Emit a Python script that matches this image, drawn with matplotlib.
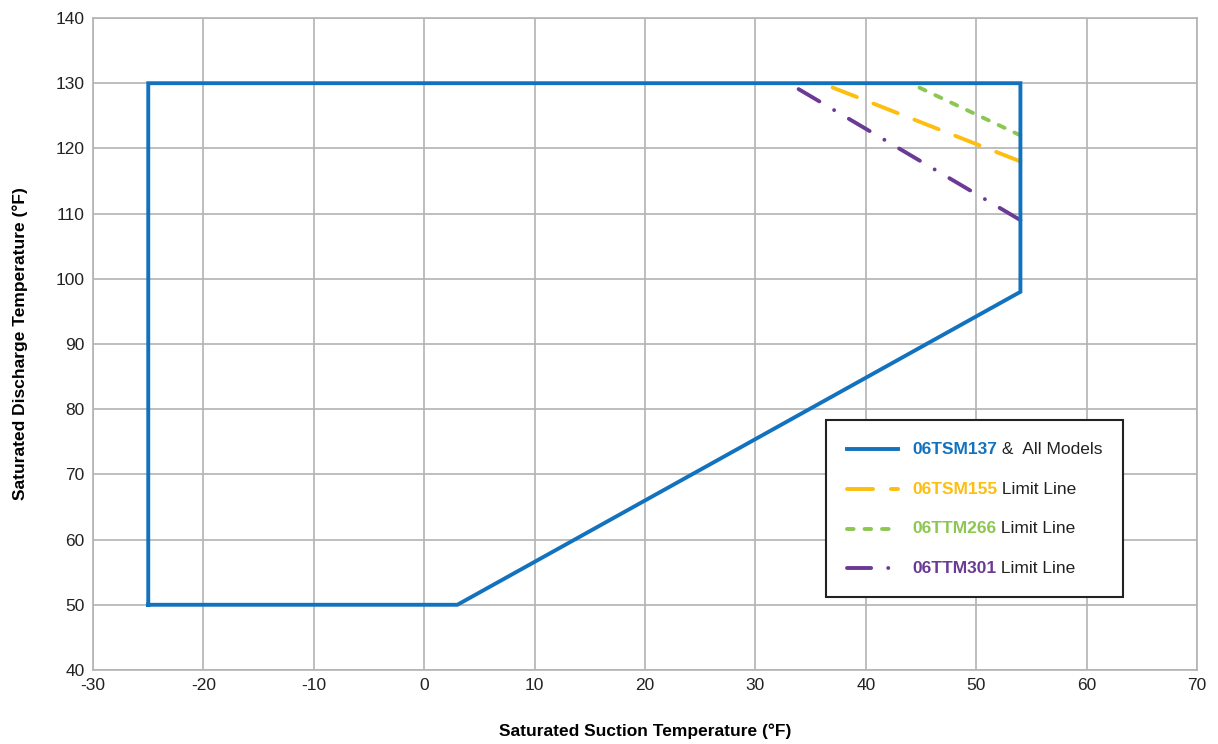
import matplotlib
matplotlib.use("Agg")
import matplotlib.pyplot as plt
from matplotlib.lines import Line2D
from matplotlib.offsetbox import (AnchoredOffsetbox, DrawingArea, HPacker,
                                  TextArea, VPacker)

# ---- data ----
# operating envelope (all models)
env_sst = [-25, -25, 54, 54, 3, -25]
env_sdt = [50, 130, 130, 98, 50, 50]

# limit lines (SST, SDT), listed from the right-hand edge of the envelope
tsm155_sst = [54, 36]
tsm155_sdt = [118, 130]
ttm266_sst = [54, 44]
ttm266_sdt = [122, 130]
ttm301_sst = [54, 33]
ttm301_sdt = [109, 130]

legend_names = ["06TSM137", "06TSM155", "06TTM266", "06TTM301"]
legend_suffix = [" &  All Models", " Limit Line", " Limit Line", " Limit Line"]

BLUE = "#1372BE"
YELLOW = "#FDBE10"
GREEN = "#8CC751"
PURPLE = "#6B3A96"

plt.rcParams.update({
    "font.family": ["Liberation Sans", "DejaVu Sans"],
    "axes.unicode_minus": False,
})

fig = plt.figure(figsize=(12.18, 7.44), dpi=100)
ax = fig.add_axes([0.0764, 0.0995, 0.9064, 0.8763])

LW = 2.8
styles = [
    dict(color=BLUE, lw=LW),
    dict(color=YELLOW, lw=LW, dashes=(6.7, 4.6), dash_capstyle="round"),
    dict(color=GREEN, lw=LW, dashes=(1.7, 2.8), dash_capstyle="round"),
    dict(color=PURPLE, lw=LW, dashes=(6.2, 4.4, 0.01, 4.4), dash_capstyle="round"),
]

ax.plot(env_sst, env_sdt, solid_joinstyle="miter", zorder=5, **styles[0])
ax.plot(tsm155_sst, tsm155_sdt, zorder=4, **styles[1])
ax.plot(ttm266_sst, ttm266_sdt, zorder=4, **styles[2])
ax.plot(ttm301_sst, ttm301_sdt, zorder=4, **styles[3])

ax.set_xlim(-30, 70)
ax.set_ylim(40, 140)
ax.set_xticks(range(-30, 71, 10))
ax.set_yticks(range(40, 141, 10))
ax.tick_params(labelsize=12.5, length=0, pad=6, colors="#222222")
ax.grid(True, color="#B3B3B3", linewidth=1.2)
ax.set_axisbelow(True)
for sp in ax.spines.values():
    sp.set_color("#B3B3B3")
    sp.set_linewidth(1.2)

ax.set_xlabel("Saturated Suction Temperature (°F)", fontsize=12.5,
              fontweight="bold", labelpad=22)
ax.set_ylabel("Saturated Discharge Temperature (°F)", fontsize=12.5,
              fontweight="bold", labelpad=20)

# ---- custom legend with two-colour labels ----
FS = 12.5
rows = []
for name, suf, st in zip(legend_names, legend_suffix, styles):
    da = DrawingArea(37, 12, 0, 0)
    da.add_artist(Line2D([0, 37], [6, 6], **st))
    t1 = TextArea(name, textprops=dict(color=st["color"], fontweight="bold",
                                       fontsize=FS))
    t2 = TextArea(suf, textprops=dict(color="#222222", fontsize=FS))
    txt = HPacker(children=[t1, t2], align="baseline", pad=0, sep=0)
    rows.append(HPacker(children=[da, txt], align="center", pad=0, sep=10))

box = VPacker(children=rows, align="left", pad=0, sep=16.5)
anch = AnchoredOffsetbox(loc="upper left", child=box, pad=1.2,
                         borderpad=0, frameon=True,
                         bbox_to_anchor=(0.664, 0.383),
                         bbox_transform=ax.transAxes,
                         prop=dict(size=FS))
anch.patch.set_edgecolor("#222222")
anch.patch.set_linewidth(1.5)
anch.patch.set_boxstyle("square", pad=0)
anch.set_zorder(10)
ax.add_artist(anch)

fig.savefig("out.png", dpi=100)
